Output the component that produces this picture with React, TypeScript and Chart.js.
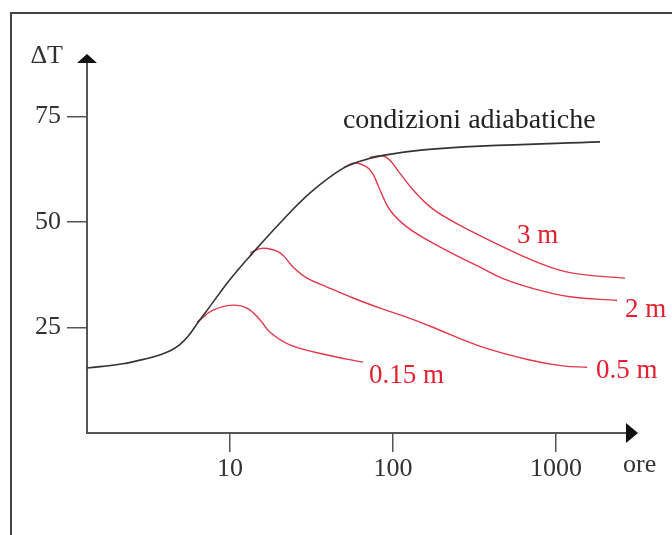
import React, { useEffect, useRef } from "react";
import { Chart, registerables } from "chart.js";

Chart.register(...registerables);

// Adiabatic curve (time in hours, ΔT)
const adiabaticT = [1.327, 2.2, 3.2, 3.7, 4.3, 4.9, 5.5, 6.4, 7.5, 10, 13.8, 21.1, 31, 47.3, 62.8, 86.9, 153, 342, 1860];
const adiabaticDT = [15.4, 16.4, 17.8, 18.5, 19.5, 20.9, 22.8, 26.3, 29.9, 36.4, 42.7, 50.5, 56.9, 62.3, 64.4, 65.8, 67.1, 68.0, 69.0];

// 0.15 m
const m015T = [6.28, 7.87, 10.4, 12.7, 15.3, 17.6, 23.3, 39.4, 65.5];
const m015DT = [26.3, 29.1, 30.3, 29.6, 26.8, 23.9, 20.9, 18.5, 16.8];

// 0.5 m
const m05T = [13.3, 15.9, 20.3, 24.4, 29.7, 39.4, 56.9, 83.2, 122, 169, 340, 689, 1100, 1550];
const m05DT = [42.7, 43.8, 42.7, 39.3, 36.7, 34.6, 32.0, 29.6, 27.4, 25.3, 20.6, 17.3, 15.9, 15.6];

// 2 m
const m2T = [50, 58.5, 69.2, 75.3, 83.2, 95.9, 122, 176, 247, 342, 473, 764, 1218, 2366];
const m2DT = [63.0, 64.0, 63.0, 61.4, 57.6, 52.8, 48.8, 45.0, 42.0, 39.3, 36.6, 34.0, 32.3, 31.4];

// 3 m
const m3T = [72, 86, 96, 110, 133, 169, 224, 310, 473, 764, 1218, 2649];
const m3DT = [65.3, 65.7, 64.6, 61.6, 57.6, 53.6, 50.5, 47.6, 44.1, 40.5, 38.0, 36.7];

const xTicks = [10, 100, 1000];
const yTicks = [25, 50, 75];
const xMin = 1.327;
const xMax = 2686;
const yMin = 0;
const yMax = 87.7;

const curveLabels = ["condizioni adiabatiche", "3 m", "2 m", "0.5 m", "0.15 m"];
const labelT = [49.3, 577, 2650, 1758, 71.3];
const labelDT = [72.3, 45.0, 27.5, 13.0, 11.8];
const labelColors = ["#222", "#e3202f", "#e3202f", "#e3202f", "#e3202f"];

const yTitle = "ΔT";
const xTitle = "ore";

const FONT = "Liberation Serif";
const BLACK = "#333";
const RED = "#e2384a";

function pts(t: number[], v: number[]) {
  return t.map((x, i) => ({ x, y: v[i] }));
}

const overlay = {
  id: "overlay",
  afterDraw(chart: any) {
    const { ctx, chartArea, scales } = chart;
    const { left, top, right, bottom } = chartArea;
    ctx.save();
    ctx.fillStyle = "#111";
    // y arrow
    ctx.beginPath();
    ctx.moveTo(left, top - 9);
    ctx.lineTo(left - 10, top);
    ctx.lineTo(left + 10, top);
    ctx.closePath();
    ctx.fill();
    // x arrow
    ctx.beginPath();
    ctx.moveTo(right + 12, bottom);
    ctx.lineTo(right, bottom - 10);
    ctx.lineTo(right, bottom + 10);
    ctx.closePath();
    ctx.fill();

    ctx.font = `26px "${FONT}"`;
    ctx.textBaseline = "alphabetic";
    ctx.fillStyle = "#333";
    ctx.textAlign = "right";
    ctx.fillText(yTitle, left - 24, top);
    ctx.textAlign = "left";
    ctx.fillText(xTitle, right - 3, bottom + 39);

    curveLabels.forEach((s, i) => {
      const px = scales.x.getPixelForValue(labelT[i]);
      const py = scales.y.getPixelForValue(labelDT[i]);
      ctx.fillStyle = labelColors[i];
      ctx.font = i === 0 ? `28px "${FONT}"` : `27px "${FONT}"`;
      ctx.fillText(s, px, py);
    });
    ctx.restore();
  },
};

export default function App() {
  const ref = useRef<HTMLCanvasElement | null>(null);
  useEffect(() => {
    if (!ref.current) return;
    const lineDs = (data: any[], color: string, width: number) => ({
      data,
      borderColor: color,
      borderWidth: width,
      pointRadius: 0,
      fill: false,
      tension: 0.4,
    });
    const chart = new Chart(ref.current, {
      type: "line",
      data: {
        datasets: [
          lineDs(pts(adiabaticT, adiabaticDT), BLACK, 1.6),
          lineDs(pts(m015T, m015DT), RED, 1.4),
          lineDs(pts(m05T, m05DT), RED, 1.4),
          lineDs(pts(m2T, m2DT), RED, 1.4),
          lineDs(pts(m3T, m3DT), RED, 1.4),
        ],
      },
      options: {
        animation: false,
        responsive: false,
        devicePixelRatio: 1,
        layout: { padding: { left: 0, top: 63, right: 46, bottom: 0 } },
        plugins: { legend: { display: false }, tooltip: { enabled: false } },
        scales: {
          x: {
            type: "logarithmic",
            min: xMin,
            max: xMax,
            afterFit: (s: any) => {
              s.height = 102;
            },
            afterBuildTicks: (s: any) => {
              s.ticks = xTicks.map((v) => ({ value: v }));
            },
            ticks: {
              callback: (v: any) => String(v),
              font: { family: FONT, size: 26 },
              color: "#333",
              padding: 2,
              autoSkip: false,
              maxRotation: 0,
            },
            grid: { display: true, drawOnChartArea: false, drawTicks: true, tickLength: 19, color: "#555", lineWidth: 1.5 },
            border: { display: true, color: "#555", width: 2 },
          },
          y: {
            type: "linear",
            min: yMin,
            max: yMax,
            afterFit: (s: any) => {
              s.width = 87;
            },
            afterBuildTicks: (s: any) => {
              s.ticks = yTicks.map((v) => ({ value: v }));
            },
            ticks: {
              font: { family: FONT, size: 26 },
              color: "#333",
              padding: 6,
            },
            grid: { display: true, drawOnChartArea: false, drawTicks: true, tickLength: 20, color: "#555", lineWidth: 1.5 },
            border: { display: true, color: "#555", width: 2 },
          },
        },
      },
      plugins: [overlay],
    });
    return () => chart.destroy();
  }, []);

  return (
    <div style={{ position: "fixed", left: 0, top: 0, width: 672, height: 535, background: "#fff", overflow: "hidden" }}>
      <div
        style={{
          position: "absolute",
          left: 10,
          top: 12,
          width: 700,
          height: 600,
          borderLeft: "2px solid #444",
          borderTop: "2px solid #444",
        }}
      />
      <canvas ref={ref} width={672} height={535} style={{ position: "absolute", left: 0, top: 0, width: 672, height: 535 }} />
    </div>
  );
}
